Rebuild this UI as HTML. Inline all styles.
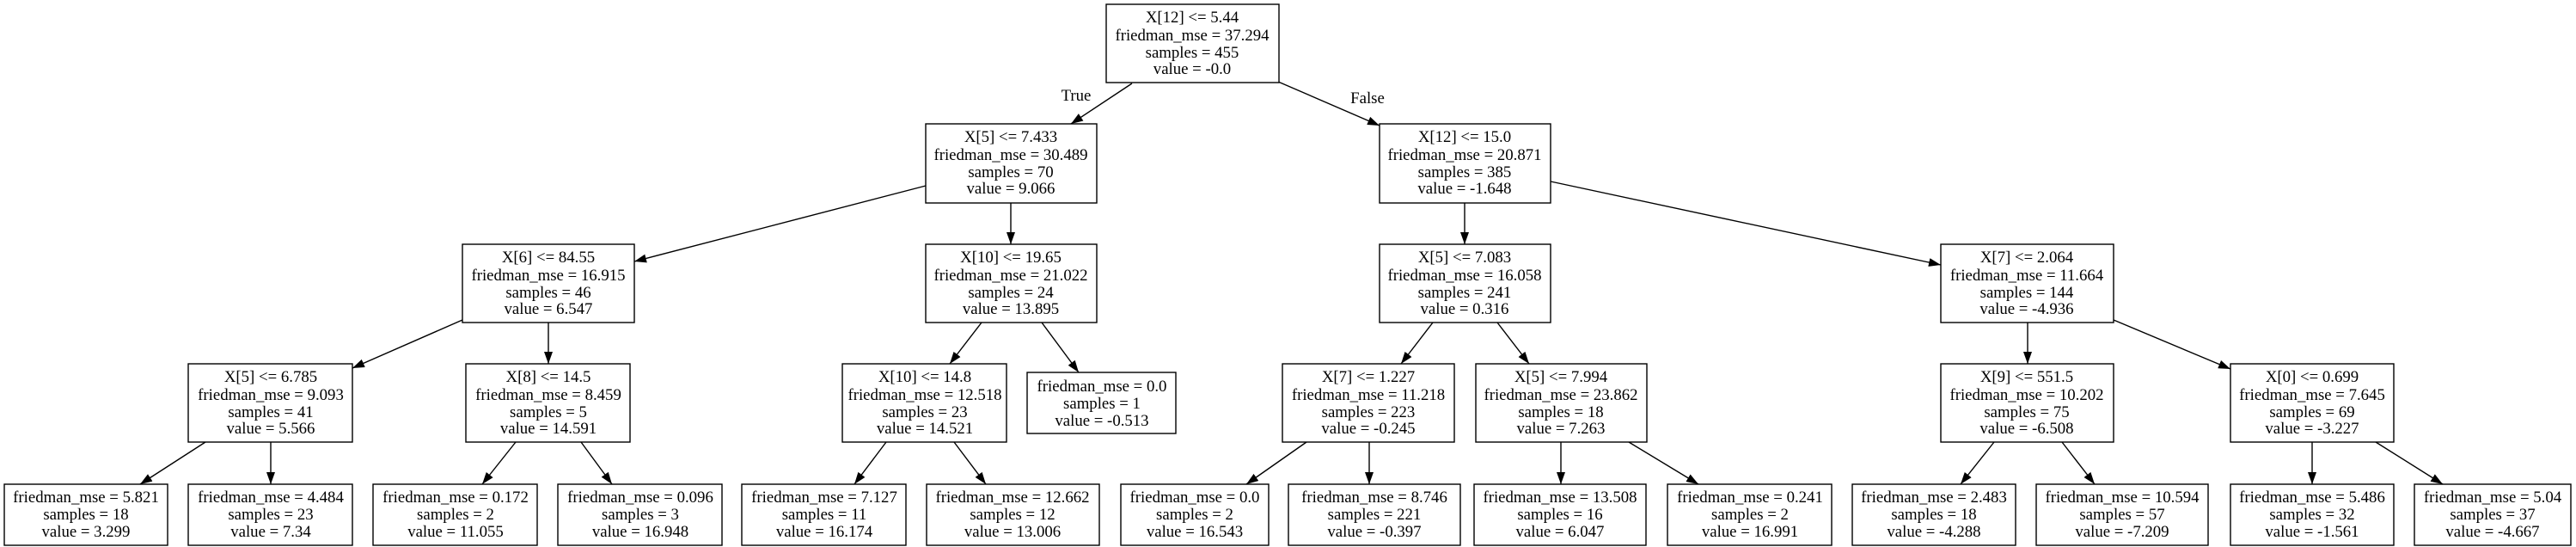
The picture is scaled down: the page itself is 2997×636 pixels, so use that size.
<!DOCTYPE html>
<html><head><meta charset="utf-8"><style>
html,body{margin:0;padding:0;background:#fff;}
svg{display:block}
text{font-family:"Liberation Serif","Times New Roman",serif;font-size:18.8px;text-anchor:middle;fill:#000}
rect{fill:#fff;stroke:#000;stroke-width:1.4}
line{stroke:#000;stroke-width:1.4}
</style></head><body>
<svg width="2997" height="636" viewBox="0 0 2997 636" xmlns="http://www.w3.org/2000/svg">
<defs><marker id="a" viewBox="0 0 14 10" refX="14" refY="5" markerWidth="14" markerHeight="10" markerUnits="userSpaceOnUse" orient="auto"><path d="M0,0L14,5L0,10z" fill="#000"/></marker></defs>
<g marker-end="url(#a)">
<line x1="1317" y1="97" x2="1246" y2="144"/>
<line x1="1487" y1="95" x2="1605" y2="146"/>
<line x1="1077" y1="216" x2="738" y2="304"/>
<line x1="1176" y1="236" x2="1176" y2="284"/>
<line x1="1704" y1="236" x2="1704" y2="284"/>
<line x1="1804" y1="211" x2="2258" y2="308"/>
<line x1="538" y1="372" x2="410" y2="428"/>
<line x1="638" y1="375" x2="638" y2="423"/>
<line x1="1142" y1="375" x2="1105" y2="423"/>
<line x1="1212" y1="375" x2="1255" y2="433"/>
<line x1="1667" y1="375" x2="1630" y2="423"/>
<line x1="1742" y1="375" x2="1779" y2="423"/>
<line x1="2359" y1="375" x2="2359" y2="423"/>
<line x1="2459" y1="372" x2="2595" y2="429"/>
<line x1="239" y1="514" x2="163" y2="563"/>
<line x1="315" y1="514" x2="315" y2="563"/>
<line x1="600" y1="514" x2="561" y2="563"/>
<line x1="676" y1="514" x2="712" y2="563"/>
<line x1="1031" y1="514" x2="994" y2="563"/>
<line x1="1110" y1="514" x2="1147" y2="563"/>
<line x1="1520" y1="514" x2="1450" y2="563"/>
<line x1="1593" y1="514" x2="1593" y2="563"/>
<line x1="1816" y1="514" x2="1816" y2="563"/>
<line x1="1895" y1="514" x2="1976" y2="563"/>
<line x1="2320" y1="514" x2="2281" y2="563"/>
<line x1="2399" y1="514" x2="2437" y2="563"/>
<line x1="2690" y1="514" x2="2690" y2="563"/>
<line x1="2764" y1="514" x2="2842" y2="563"/>
</g>
<text x="1252" y="117">True</text>
<text x="1591" y="120">False</text>

<rect x="1287" y="5" width="201" height="91"/>
<text x="1387" y="26">X[12] &lt;= 5.44</text><text x="1387" y="47">friedman_mse = 37.294</text><text x="1387" y="67">samples = 455</text><text x="1387" y="86">value = -0.0</text>
<rect x="1077" y="144" width="199" height="92"/>
<text x="1176" y="165">X[5] &lt;= 7.433</text><text x="1176" y="186">friedman_mse = 30.489</text><text x="1176" y="206">samples = 70</text><text x="1176" y="225">value = 9.066</text>
<rect x="1605" y="144" width="199" height="92"/>
<text x="1704" y="165">X[12] &lt;= 15.0</text><text x="1704" y="186">friedman_mse = 20.871</text><text x="1704" y="206">samples = 385</text><text x="1704" y="225">value = -1.648</text>
<rect x="538" y="284" width="200" height="91"/>
<text x="638" y="305">X[6] &lt;= 84.55</text><text x="638" y="326">friedman_mse = 16.915</text><text x="638" y="346">samples = 46</text><text x="638" y="365">value = 6.547</text>
<rect x="1077" y="284" width="199" height="91"/>
<text x="1176" y="305">X[10] &lt;= 19.65</text><text x="1176" y="326">friedman_mse = 21.022</text><text x="1176" y="346">samples = 24</text><text x="1176" y="365">value = 13.895</text>
<rect x="1605" y="284" width="199" height="91"/>
<text x="1704" y="305">X[5] &lt;= 7.083</text><text x="1704" y="326">friedman_mse = 16.058</text><text x="1704" y="346">samples = 241</text><text x="1704" y="365">value = 0.316</text>
<rect x="2258" y="284" width="201" height="91"/>
<text x="2358" y="305">X[7] &lt;= 2.064</text><text x="2358" y="326">friedman_mse = 11.664</text><text x="2358" y="346">samples = 144</text><text x="2358" y="365">value = -4.936</text>
<rect x="219" y="423" width="191" height="91"/>
<text x="315" y="444">X[5] &lt;= 6.785</text><text x="315" y="465">friedman_mse = 9.093</text><text x="315" y="485">samples = 41</text><text x="315" y="504">value = 5.566</text>
<rect x="542" y="423" width="191" height="91"/>
<text x="638" y="444">X[8] &lt;= 14.5</text><text x="638" y="465">friedman_mse = 8.459</text><text x="638" y="485">samples = 5</text><text x="638" y="504">value = 14.591</text>
<rect x="980" y="423" width="191" height="91"/>
<text x="1076" y="444">X[10] &lt;= 14.8</text><text x="1076" y="465">friedman_mse = 12.518</text><text x="1076" y="485">samples = 23</text><text x="1076" y="504">value = 14.521</text>
<rect x="1195" y="433" width="173" height="71"/>
<text x="1282" y="455">friedman_mse = 0.0</text><text x="1282" y="475">samples = 1</text><text x="1282" y="495">value = -0.513</text>
<rect x="1492" y="423" width="200" height="91"/>
<text x="1592" y="444">X[7] &lt;= 1.227</text><text x="1592" y="465">friedman_mse = 11.218</text><text x="1592" y="485">samples = 223</text><text x="1592" y="504">value = -0.245</text>
<rect x="1717" y="423" width="199" height="91"/>
<text x="1816" y="444">X[5] &lt;= 7.994</text><text x="1816" y="465">friedman_mse = 23.862</text><text x="1816" y="485">samples = 18</text><text x="1816" y="504">value = 7.263</text>
<rect x="2258" y="423" width="201" height="91"/>
<text x="2358" y="444">X[9] &lt;= 551.5</text><text x="2358" y="465">friedman_mse = 10.202</text><text x="2358" y="485">samples = 75</text><text x="2358" y="504">value = -6.508</text>
<rect x="2595" y="423" width="190" height="91"/>
<text x="2690" y="444">X[0] &lt;= 0.699</text><text x="2690" y="465">friedman_mse = 7.645</text><text x="2690" y="485">samples = 69</text><text x="2690" y="504">value = -3.227</text>
<rect x="5" y="563" width="190" height="71"/>
<text x="100" y="584">friedman_mse = 5.821</text><text x="100" y="604">samples = 18</text><text x="100" y="624">value = 3.299</text>
<rect x="219" y="563" width="191" height="71"/>
<text x="315" y="584">friedman_mse = 4.484</text><text x="315" y="604">samples = 23</text><text x="315" y="624">value = 7.34</text>
<rect x="434" y="563" width="191" height="71"/>
<text x="530" y="584">friedman_mse = 0.172</text><text x="530" y="604">samples = 2</text><text x="530" y="624">value = 11.055</text>
<rect x="649" y="563" width="191" height="71"/>
<text x="745" y="584">friedman_mse = 0.096</text><text x="745" y="604">samples = 3</text><text x="745" y="624">value = 16.948</text>
<rect x="863" y="563" width="191" height="71"/>
<text x="959" y="584">friedman_mse = 7.127</text><text x="959" y="604">samples = 11</text><text x="959" y="624">value = 16.174</text>
<rect x="1078" y="563" width="201" height="71"/>
<text x="1178" y="584">friedman_mse = 12.662</text><text x="1178" y="604">samples = 12</text><text x="1178" y="624">value = 13.006</text>
<rect x="1304" y="563" width="172" height="71"/>
<text x="1390" y="584">friedman_mse = 0.0</text><text x="1390" y="604">samples = 2</text><text x="1390" y="624">value = 16.543</text>
<rect x="1499" y="563" width="200" height="71"/>
<text x="1599" y="584">friedman_mse = 8.746</text><text x="1599" y="604">samples = 221</text><text x="1599" y="624">value = -0.397</text>
<rect x="1715" y="563" width="200" height="71"/>
<text x="1815" y="584">friedman_mse = 13.508</text><text x="1815" y="604">samples = 16</text><text x="1815" y="624">value = 6.047</text>
<rect x="1940" y="563" width="191" height="71"/>
<text x="2036" y="584">friedman_mse = 0.241</text><text x="2036" y="604">samples = 2</text><text x="2036" y="624">value = 16.991</text>
<rect x="2155" y="563" width="190" height="71"/>
<text x="2250" y="584">friedman_mse = 2.483</text><text x="2250" y="604">samples = 18</text><text x="2250" y="624">value = -4.288</text>
<rect x="2369" y="563" width="200" height="71"/>
<text x="2469" y="584">friedman_mse = 10.594</text><text x="2469" y="604">samples = 57</text><text x="2469" y="624">value = -7.209</text>
<rect x="2595" y="563" width="190" height="71"/>
<text x="2690" y="584">friedman_mse = 5.486</text><text x="2690" y="604">samples = 32</text><text x="2690" y="624">value = -1.561</text>
<rect x="2809" y="563" width="182" height="71"/>
<text x="2900" y="584">friedman_mse = 5.04</text><text x="2900" y="604">samples = 37</text><text x="2900" y="624">value = -4.667</text>
</svg>
</body></html>
